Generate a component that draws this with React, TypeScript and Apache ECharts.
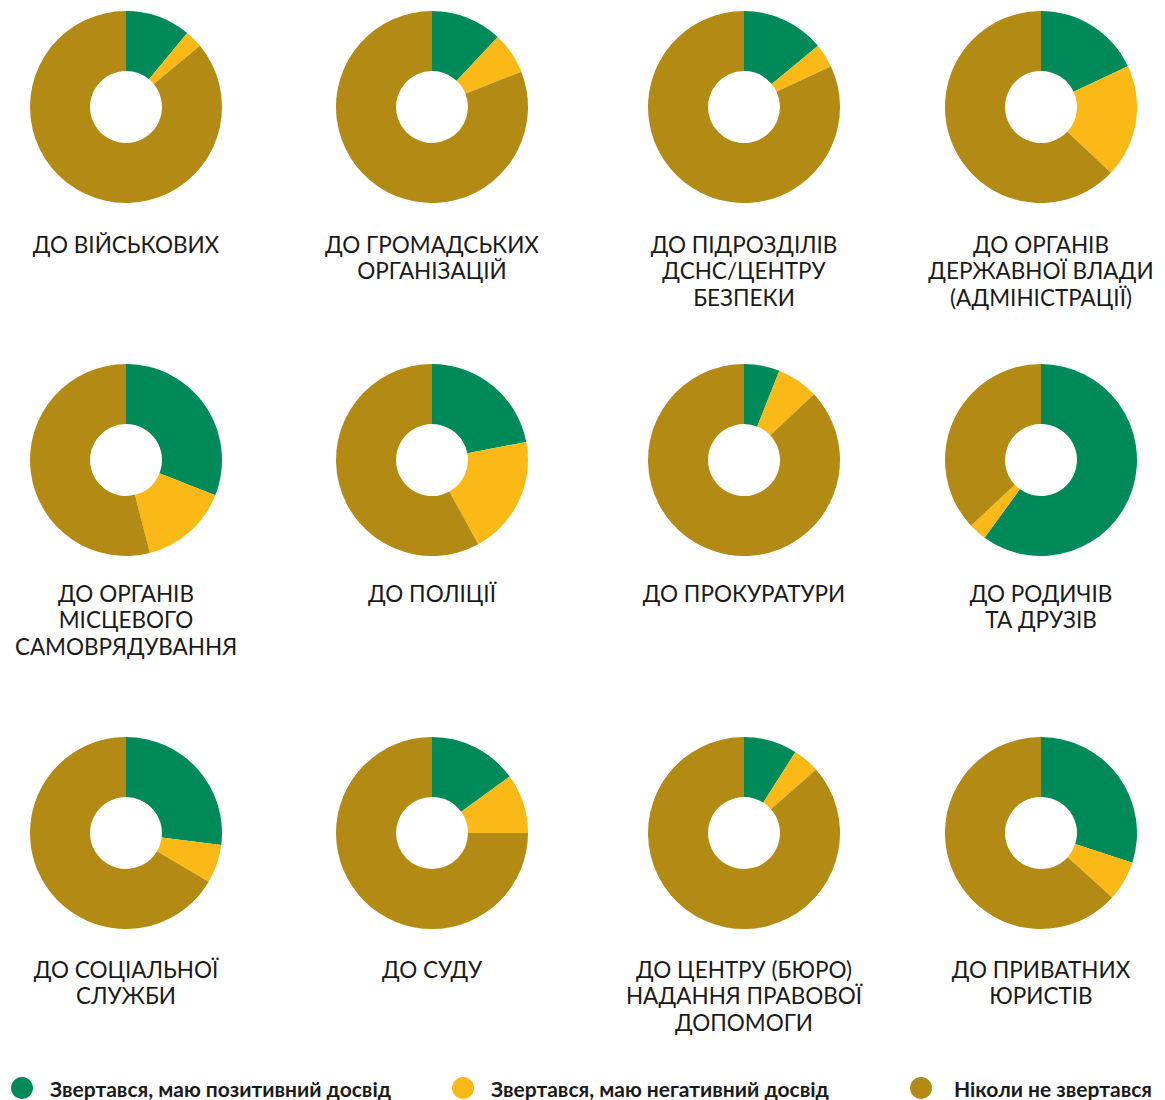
import React, { useEffect, useRef } from "react";
import * as echarts from "echarts";

const seriesNames = [
  "Звертався, маю позитивний досвід",
  "Звертався, маю негативний досвід",
  "Ніколи не звертався",
];
const colors = ["#008A5A", "#FBB917", "#B38B14"];

const categories = [
  "ДО ВІЙСЬКОВИХ",
  "ДО ГРОМАДСЬКИХ\nОРГАНІЗАЦІЙ",
  "ДО ПІДРОЗДІЛІВ\nДСНС/ЦЕНТРУ\nБЕЗПЕКИ",
  "ДО ОРГАНІВ\nДЕРЖАВНОЇ ВЛАДИ\n(АДМІНІСТРАЦІЇ)",
  "ДО ОРГАНІВ\nМІСЦЕВОГО\nСАМОВРЯДУВАННЯ",
  "ДО ПОЛІЦІЇ",
  "ДО ПРОКУРАТУРИ",
  "ДО РОДИЧІВ\nТА ДРУЗІВ",
  "ДО СОЦІАЛЬНОЇ\nСЛУЖБИ",
  "ДО СУДУ",
  "ДО ЦЕНТРУ (БЮРО)\nНАДАННЯ ПРАВОВОЇ\nДОПОМОГИ",
  "ДО ПРИВАТНИХ\nЮРИСТІВ",
];

const positive = [11, 12, 14, 18, 31, 22, 6, 60, 27, 15, 9, 30];
const negative = [3, 7, 4, 19, 15, 20, 7, 3, 6.5, 10, 4.5, 6.7];
const never = [86, 81, 82, 63, 54, 58, 87, 37, 66.5, 75, 86.5, 63.3];

const colX = [126, 432, 744, 1041];
const rowY = [107, 460, 833];
const labelTop = [231, 580, 956];

export default function App() {
  const ref = useRef<HTMLDivElement>(null);
  useEffect(() => {
    document.body.style.margin = "0";
    const chart = echarts.init(ref.current!, null, { renderer: "svg" });
    const series = categories.map((cat, i) => ({
      type: "pie",
      name: cat,
      center: [colX[i % 4], rowY[Math.floor(i / 4)]],
      radius: [36, 96],
      startAngle: 90,
      clockwise: true,
      label: { show: false },
      labelLine: { show: false },
      emphasis: { disabled: true },
      itemStyle: { borderWidth: 0 },
      data: [
        { name: seriesNames[0], value: positive[i], itemStyle: { color: colors[0] } },
        { name: seriesNames[1], value: negative[i], itemStyle: { color: colors[1] } },
        { name: seriesNames[2], value: never[i], itemStyle: { color: colors[2] } },
      ],
    }));
    const graphic = categories.map((cat, i) => ({
      type: "text",
      x: colX[i % 4],
      y: labelTop[Math.floor(i / 4)],
      style: {
        text: cat,
        fill: "#1a1a1a",
        font: '22.5px Lato, "Noto Sans", sans-serif',
        align: "center",
        verticalAlign: "top",
        lineHeight: 26.5,
      },
    }));
    const legendLefts = [11, 452, 910];
    const legend = seriesNames.map((n, i) => ({
      data: [n],
      left: legendLefts[i],
      top: 1077,
      padding: 0,
      icon: "circle",
      itemWidth: 22,
      itemHeight: 22,
      selectedMode: false,
      textStyle: {
        fontFamily: 'Lato, "Noto Sans", sans-serif',
        fontWeight: "bold",
        fontSize: 21,
        color: "#1a1a1a",
        padding: [0, 0, 0, i === 2 ? 17 : 12],
      },
    }));
    chart.setOption({
      animation: false,
      color: colors,
      legend,
      graphic,
      series,
    });
    return () => chart.dispose();
  }, []);
  return <div ref={ref} style={{ width: 1165, height: 1100 }} />;
}
